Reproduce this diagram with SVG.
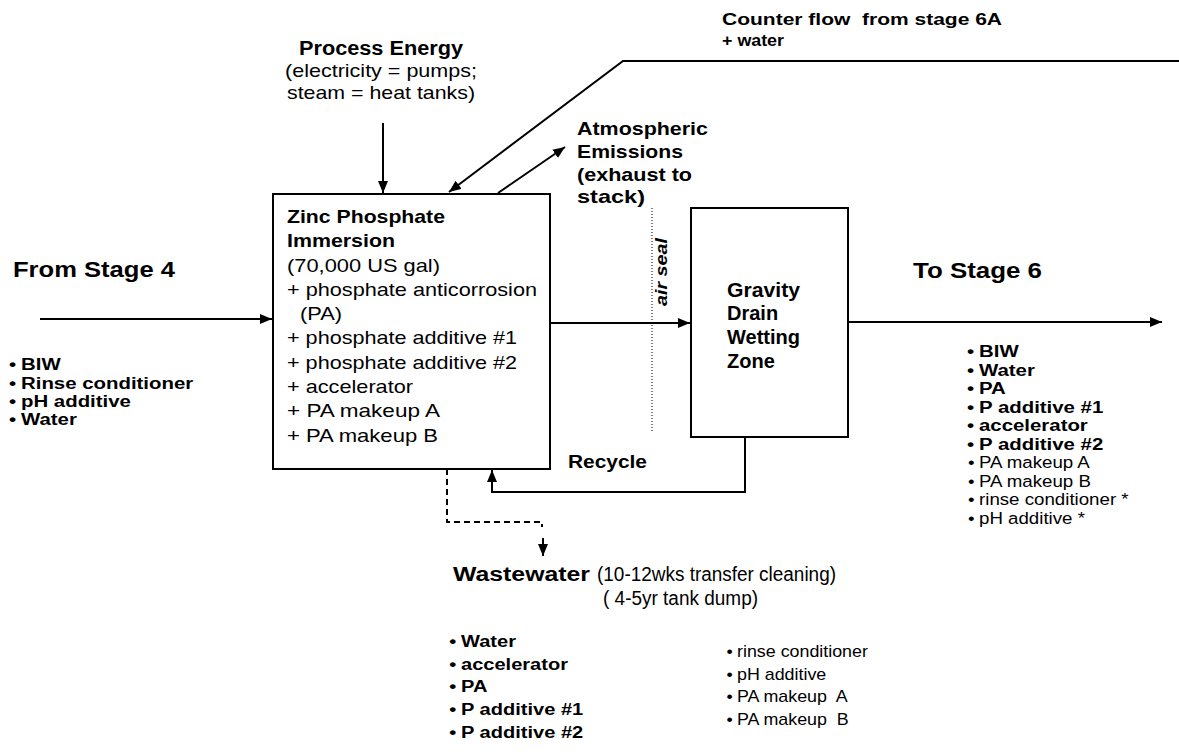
<svg xmlns="http://www.w3.org/2000/svg" width="1179" height="752" viewBox="0 0 1179 752">
<defs>
<marker id="ah" viewBox="0 0 12 10" refX="12" refY="5" markerWidth="12" markerHeight="10" markerUnits="userSpaceOnUse" orient="auto">
<path d="M0,0 L12,5 L0,10 Z" fill="#000"/>
</marker>
<style>
text{font-family:"Liberation Sans",Arial,sans-serif;fill:#000}
.b{font-weight:bold}
.box{fill:#fff;stroke:#000;stroke-width:2}
.ln{fill:none;stroke:#000;stroke-width:2}
.z{font-size:19px}
.l text{font-size:17px}
</style>
</defs>
<rect width="1179" height="752" fill="#fff"/>

<g id="connectors">
<line class="ln" x1="40" y1="319" x2="272" y2="319" marker-end="url(#ah)"/>
<line class="ln" x1="383" y1="123" x2="383" y2="193" marker-end="url(#ah)" stroke-width="1.5"/>
<polyline class="ln" points="1179,61 623,61 449,192" marker-end="url(#ah)"/>
<line class="ln" x1="498" y1="193" x2="565" y2="147" marker-end="url(#ah)" stroke-width="1.5"/>
<line class="ln" x1="550" y1="323" x2="690" y2="323" marker-end="url(#ah)"/>
<line x1="652" y1="208" x2="652" y2="432" stroke="#000" stroke-width="1" stroke-dasharray="1,2"/>
<line class="ln" x1="848" y1="322" x2="1162" y2="322" marker-end="url(#ah)"/>
<polyline class="ln" points="745,437 745,492 492,492 492,470" marker-end="url(#ah)"/>
<polyline class="ln" points="447,469 447,522 542,522 542,527" stroke-dasharray="6,4"/>
<line class="ln" x1="543" y1="538" x2="543" y2="556" marker-end="url(#ah)"/>
</g>

<g id="process-energy">
<text class="b" font-size="20" x="381" y="55" text-anchor="middle" textLength="164" lengthAdjust="spacingAndGlyphs">Process Energy</text>
<text font-size="19" x="381" y="77" text-anchor="middle" textLength="192" lengthAdjust="spacingAndGlyphs">(electricity = pumps;</text>
<text font-size="19" x="381" y="99" text-anchor="middle" textLength="188" lengthAdjust="spacingAndGlyphs">steam = heat tanks)</text>
</g>

<g id="counter-flow">
<text class="b" font-size="16" x="722" y="25" textLength="280" lengthAdjust="spacingAndGlyphs">Counter flow&#160; from stage 6A</text>
<text class="b" font-size="16" x="722" y="46" textLength="62" lengthAdjust="spacingAndGlyphs">+ water</text>
</g>

<g id="atmospheric-emissions">
<text class="b" font-size="19" x="577" y="135" textLength="131" lengthAdjust="spacingAndGlyphs">Atmospheric</text>
<text class="b" font-size="19" x="577" y="158" textLength="106" lengthAdjust="spacingAndGlyphs">Emissions</text>
<text class="b" font-size="19" x="577" y="181" textLength="115" lengthAdjust="spacingAndGlyphs">(exhaust to</text>
<text class="b" font-size="19" x="577" y="203" textLength="68" lengthAdjust="spacingAndGlyphs">stack)</text>
</g>

<g id="zinc-phosphate">
<rect class="box" x="273" y="194" width="277" height="275"/>
<text class="b z" x="287" y="223" textLength="158" lengthAdjust="spacingAndGlyphs">Zinc Phosphate</text>
<text class="b z" x="287" y="247" textLength="108" lengthAdjust="spacingAndGlyphs">Immersion</text>
<text class="z" x="287" y="272" textLength="153" lengthAdjust="spacingAndGlyphs">(70,000 US gal)</text>
<text class="z" x="287" y="296" textLength="250" lengthAdjust="spacingAndGlyphs">+ phosphate anticorrosion</text>
<text class="z" x="300" y="320" textLength="42" lengthAdjust="spacingAndGlyphs">(PA)</text>
<text class="z" x="287" y="344" textLength="230" lengthAdjust="spacingAndGlyphs">+ phosphate additive #1</text>
<text class="z" x="287" y="369" textLength="230" lengthAdjust="spacingAndGlyphs">+ phosphate additive #2</text>
<text class="z" x="287" y="393" textLength="126" lengthAdjust="spacingAndGlyphs">+ accelerator</text>
<text class="z" x="287" y="417" textLength="153" lengthAdjust="spacingAndGlyphs">+ PA makeup A</text>
<text class="z" x="287" y="442" textLength="151" lengthAdjust="spacingAndGlyphs">+ PA makeup B</text>
</g>

<g id="gravity-drain">
<rect class="box" x="691" y="208" width="157" height="229"/>
<text class="b" font-size="20" x="727" y="297" textLength="73" lengthAdjust="spacingAndGlyphs">Gravity</text>
<text class="b" font-size="20" x="727" y="320">Drain</text>
<text class="b" font-size="20" x="727" y="344">Wetting</text>
<text class="b" font-size="20" x="727" y="368">Zone</text>
</g>

<g id="air-seal">
<text class="b" font-size="17" font-style="italic" transform="translate(667,306) rotate(-90)" textLength="68" lengthAdjust="spacingAndGlyphs">air seal</text>
</g>

<g id="from-stage-4">
<text class="b" font-size="22" x="13" y="277" textLength="162" lengthAdjust="spacingAndGlyphs">From Stage 4</text>
<g class="l b" transform="translate(21,0) scale(1.2,1)">
<text x="-10" y="370">•</text><text x="0" y="370">BIW</text>
<text x="-10" y="389">•</text><text x="0" y="389">Rinse conditioner</text>
<text x="-10" y="407">•</text><text x="0" y="407">pH additive</text>
<text x="-10" y="425">•</text><text x="0" y="425">Water</text>
</g>
</g>

<g id="to-stage-6">
<text class="b" font-size="22" x="913" y="278" textLength="129" lengthAdjust="spacingAndGlyphs">To Stage 6</text>
<g class="l b" transform="translate(979,0) scale(1.2,1)">
<text x="-10" y="357">•</text><text x="0" y="357">BIW</text>
<text x="-10" y="376">•</text><text x="0" y="376">Water</text>
<text x="-10" y="394">•</text><text x="0" y="394">PA</text>
<text x="-10" y="413">•</text><text x="0" y="413">P additive #1</text>
<text x="-10" y="431">•</text><text x="0" y="431">accelerator</text>
<text x="-10" y="450">•</text><text x="0" y="450">P additive #2</text>
</g>
<g class="l" transform="translate(979,0) scale(1.1,1)">
<text x="-10" y="468">•</text><text x="0" y="468">PA makeup A</text>
<text x="-10" y="487">•</text><text x="0" y="487">PA makeup B</text>
<text x="-10" y="505">•</text><text x="0" y="505">rinse conditioner *</text>
<text x="-10" y="524">•</text><text x="0" y="524">pH additive *</text>
</g>
</g>

<g id="recycle">
<text class="b" font-size="19" x="568" y="468" textLength="79" lengthAdjust="spacingAndGlyphs">Recycle</text>
</g>

<g id="wastewater">
<text class="b" font-size="20" x="453" y="581" textLength="137" lengthAdjust="spacingAndGlyphs">Wastewater</text>
<text font-size="20" x="597" y="581" textLength="239" lengthAdjust="spacingAndGlyphs">(10-12wks transfer cleaning)</text>
<text font-size="20" x="603" y="605" textLength="155" lengthAdjust="spacingAndGlyphs">( 4-5yr tank dump)</text>
<g class="l b" transform="translate(461,0) scale(1.18,1)">
<text x="-10" y="647">•</text><text x="0" y="647">Water</text>
<text x="-10" y="670">•</text><text x="0" y="670">accelerator</text>
<text x="-10" y="692">•</text><text x="0" y="692">PA</text>
<text x="-10" y="715">•</text><text x="0" y="715">P additive #1</text>
<text x="-10" y="738">•</text><text x="0" y="738">P additive #2</text>
</g>
<g class="l" transform="translate(737,0) scale(1.05,1)">
<text x="-10" y="657">•</text><text x="0" y="657">rinse conditioner</text>
<text x="-10" y="680">•</text><text x="0" y="680">pH additive</text>
<text x="-10" y="702">•</text><text x="0" y="702">PA makeup&#160; A</text>
<text x="-10" y="725">•</text><text x="0" y="725">PA makeup&#160; B</text>
</g>
</g>
</svg>
